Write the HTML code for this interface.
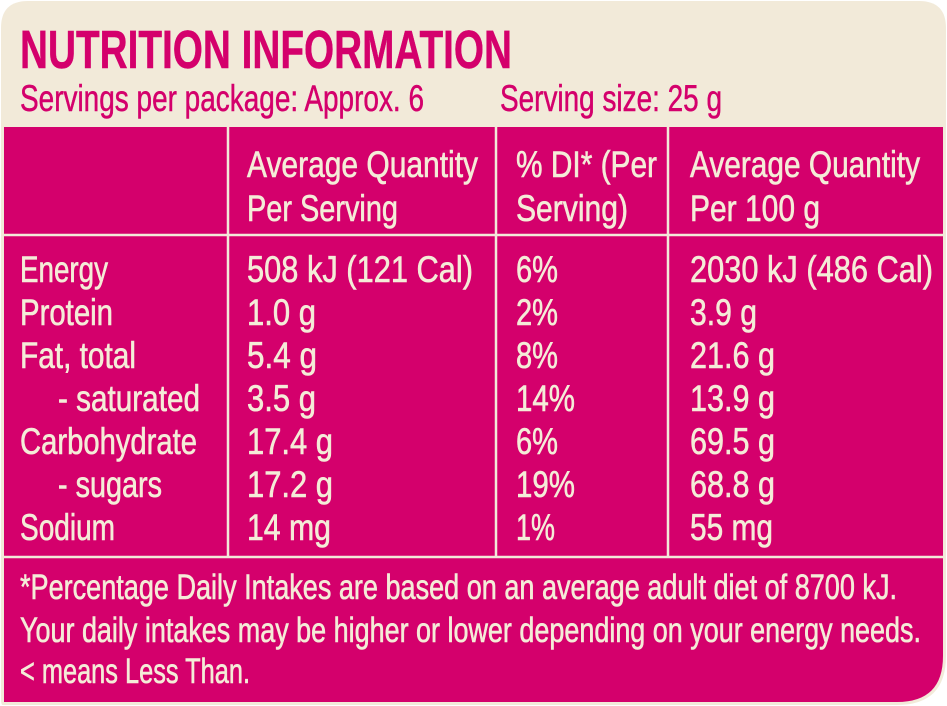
<!DOCTYPE html>
<html><head><meta charset="utf-8"><style>
html,body{margin:0;padding:0;background:#fff;width:947px;height:706px;overflow:hidden}
svg{display:block}
text{font-family:"Liberation Sans Narrow","Liberation Sans",sans-serif}
.t{fill:#f4ecd8;font-size:37px;stroke:#f4ecd8;stroke-width:0.6}
.m{fill:#d4006c;stroke:#d4006c;stroke-width:0.5}
</style></head><body>
<svg width="947" height="706" viewBox="0 0 947 706" xmlns="http://www.w3.org/2000/svg">
<path d="M28,1 H919 Q946,1 946,28 V656 Q946,705 897,705 H3 Q1,705 1,700 V28 Q1,1 28,1 Z" fill="#f2ead9"/>
<path d="M4,127 H943 V656 Q943,702 897,702 H4 Z" fill="#d4006c"/>
<g stroke="#f2ead9" stroke-width="2.5">
<line x1="228" y1="127" x2="228" y2="557"/>
<line x1="496" y1="127" x2="496" y2="557"/>
<line x1="668" y1="127" x2="668" y2="557"/>
<line x1="4" y1="235" x2="943" y2="235"/>
<line x1="4" y1="557" x2="943" y2="557"/>
</g>
<text class="m" x="20" y="68" font-size="54" font-weight="bold" textLength="492" lengthAdjust="spacingAndGlyphs">NUTRITION INFORMATION</text>
<text class="m" x="20" y="111" font-size="37" textLength="404" lengthAdjust="spacingAndGlyphs">Servings per package: Approx. 6</text>
<text class="m" x="500" y="111" font-size="37" textLength="222" lengthAdjust="spacingAndGlyphs">Serving size: 25 g</text>
<g class="t">
<text x="247" y="177" textLength="231" lengthAdjust="spacingAndGlyphs">Average Quantity</text>
<text x="247" y="221" textLength="151" lengthAdjust="spacingAndGlyphs">Per Serving</text>
<text x="516" y="177" textLength="141" lengthAdjust="spacingAndGlyphs">% DI* (Per</text>
<text x="516" y="221" textLength="112" lengthAdjust="spacingAndGlyphs">Serving)</text>
<text x="690" y="177" textLength="230" lengthAdjust="spacingAndGlyphs">Average Quantity</text>
<text x="690" y="221" textLength="130" lengthAdjust="spacingAndGlyphs">Per 100 g</text>

<text x="20" y="282" textLength="88" lengthAdjust="spacingAndGlyphs">Energy</text>
<text x="20" y="325" textLength="93" lengthAdjust="spacingAndGlyphs">Protein</text>
<text x="20" y="368" textLength="116" lengthAdjust="spacingAndGlyphs">Fat, total</text>
<text x="58" y="411" textLength="142" lengthAdjust="spacingAndGlyphs">- saturated</text>
<text x="20" y="454" textLength="177" lengthAdjust="spacingAndGlyphs">Carbohydrate</text>
<text x="58" y="497" textLength="104" lengthAdjust="spacingAndGlyphs">- sugars</text>
<text x="20" y="540" textLength="95" lengthAdjust="spacingAndGlyphs">Sodium</text>

<text x="247" y="282" textLength="226" lengthAdjust="spacingAndGlyphs">508 kJ (121 Cal)</text>
<text x="247" y="325" textLength="69" lengthAdjust="spacingAndGlyphs">1.0 g</text>
<text x="247" y="368" textLength="70" lengthAdjust="spacingAndGlyphs">5.4 g</text>
<text x="247" y="411" textLength="69" lengthAdjust="spacingAndGlyphs">3.5 g</text>
<text x="247" y="454" textLength="86" lengthAdjust="spacingAndGlyphs">17.4 g</text>
<text x="247" y="497" textLength="86" lengthAdjust="spacingAndGlyphs">17.2 g</text>
<text x="247" y="540" textLength="84" lengthAdjust="spacingAndGlyphs">14 mg</text>

<text x="516" y="282" textLength="42" lengthAdjust="spacingAndGlyphs">6%</text>
<text x="516" y="325" textLength="42" lengthAdjust="spacingAndGlyphs">2%</text>
<text x="516" y="368" textLength="42" lengthAdjust="spacingAndGlyphs">8%</text>
<text x="516" y="411" textLength="59" lengthAdjust="spacingAndGlyphs">14%</text>
<text x="516" y="454" textLength="42" lengthAdjust="spacingAndGlyphs">6%</text>
<text x="516" y="497" textLength="59" lengthAdjust="spacingAndGlyphs">19%</text>
<text x="516" y="540" textLength="39" lengthAdjust="spacingAndGlyphs">1%</text>

<text x="690" y="282" textLength="243" lengthAdjust="spacingAndGlyphs">2030 kJ (486 Cal)</text>
<text x="690" y="325" textLength="67" lengthAdjust="spacingAndGlyphs">3.9 g</text>
<text x="690" y="368" textLength="85" lengthAdjust="spacingAndGlyphs">21.6 g</text>
<text x="690" y="411" textLength="85" lengthAdjust="spacingAndGlyphs">13.9 g</text>
<text x="690" y="454" textLength="85" lengthAdjust="spacingAndGlyphs">69.5 g</text>
<text x="690" y="497" textLength="85" lengthAdjust="spacingAndGlyphs">68.8 g</text>
<text x="690" y="540" textLength="83" lengthAdjust="spacingAndGlyphs">55 mg</text>

<text x="20" y="599" font-size="35" textLength="877" lengthAdjust="spacingAndGlyphs">*Percentage Daily Intakes are based on an average adult diet of 8700 kJ.</text>
<text x="20" y="642" font-size="35" textLength="901" lengthAdjust="spacingAndGlyphs">Your daily intakes may be higher or lower depending on your energy needs.</text>
<text x="20" y="683" font-size="35" textLength="230" lengthAdjust="spacingAndGlyphs">&lt; means Less Than.</text>
</g>
</svg>
</body></html>
